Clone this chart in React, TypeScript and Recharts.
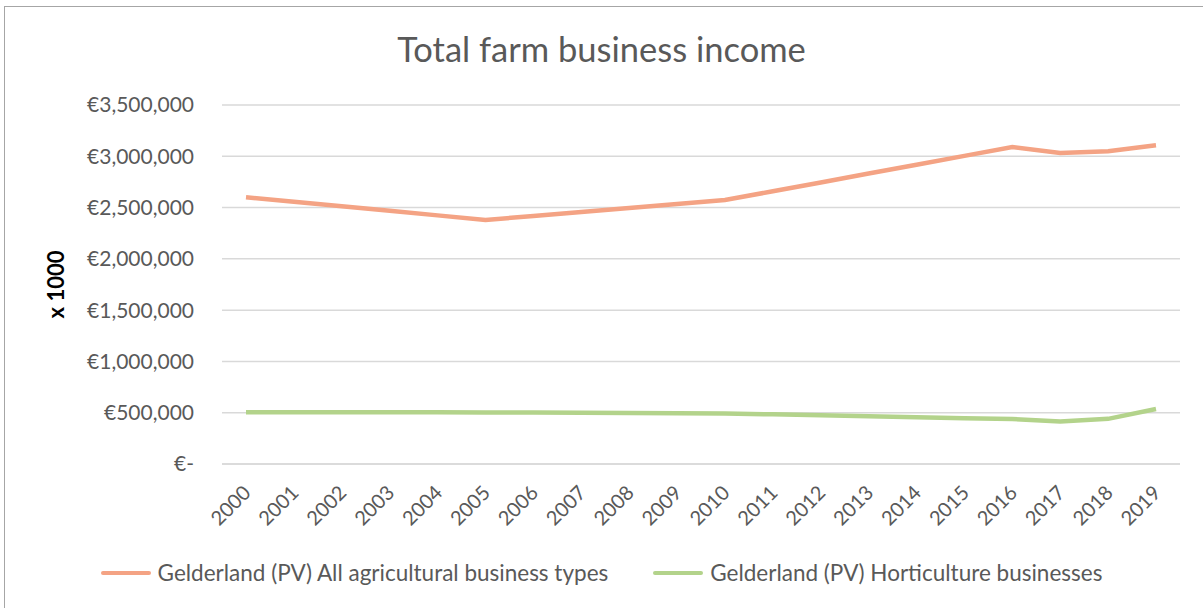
import { LineChart, Line, XAxis, YAxis, CartesianGrid, Legend, Label } from 'recharts';

const years = ['2000', '2001', '2002', '2003', '2004', '2005', '2006', '2007', '2008', '2009',
  '2010', '2011', '2012', '2013', '2014', '2015', '2016', '2017', '2018', '2019'];

// x 1000 euro
const allTypes = [2600000, 2556000, 2512000, 2468000, 2424000, 2380000, 2418000, 2457000, 2496000, 2534000,
  2573000, 2659000, 2745000, 2832000, 2918000, 3004000, 3090000, 3031000, 3050000, 3108000];
const horticulture = [505000, 505000, 504000, 504000, 504000, 503000, 501000, 499000, 497000, 495000,
  493000, 484000, 475000, 465000, 456000, 447000, 438000, 414000, 440000, 536000];

const yTicks = [0, 500000, 1000000, 1500000, 2000000, 2500000, 3000000, 3500000];

const seriesNames = ['Gelderland (PV) All agricultural business types', 'Gelderland (PV) Horticulture businesses'];
const colors = ['#F4A384', '#B3D38B'];

const data = years.map((y, i) => ({ year: y, all: allTypes[i], hort: horticulture[i] }));

const FONT = 'Lato, "Open Sans", sans-serif';
const TXT = '#595959';

const euro = (v: number) => (v === 0 ? '€-' : '€' + v.toLocaleString('en-US'));

function LegendBox() {
  return (
    <div style={{ display: 'flex', justifyContent: 'center', gap: 45, fontFamily: FONT, fontSize: 22.5, color: TXT }}>
      {seriesNames.map((n, i) => (
        <div key={n} style={{ display: 'flex', alignItems: 'center' }}>
          <span style={{ display: 'inline-block', width: 50, height: 4, borderRadius: 2, background: colors[i], marginRight: 7 }} />
          <span>{n}</span>
        </div>
      ))}
    </div>
  );
}

export default function App() {
  return (
    <div style={{ position: 'absolute', left: 0, top: 0, width: 1203, height: 608, background: '#fff', overflow: 'hidden' }}>
      <div style={{ position: 'absolute', left: 4, top: 6, width: 1220, height: 620, border: '1px solid #a6a6a6', boxSizing: 'border-box' }} />
      <div style={{ position: 'absolute', left: 0, top: 28, width: 1203, textAlign: 'center', fontFamily: FONT, fontSize: 34.5, color: TXT }}>
        Total farm business income
      </div>
      <div style={{ position: 'absolute', left: 0, top: 0 }}>
        <LineChart width={1203} height={608} data={data} margin={{ top: 105, right: 23, bottom: 84, left: 52 }}>
          <CartesianGrid vertical={false} stroke="#d9d9d9" strokeWidth={1.5} />
          <XAxis
            dataKey="year"
            axisLine={{ stroke: '#d9d9d9', strokeWidth: 1.5 }}
            tickLine={false}
            interval={0}
            angle={-45}
            textAnchor="end"
            height={60}
            padding={{ left: 24, right: 24 }}
            tick={{ fill: TXT, fontFamily: FONT, fontSize: 20 }}
            dy={12}
            dx={-4}
          />
          <YAxis
            domain={[0, 3500000]}
            ticks={yTicks}
            tickFormatter={euro}
            axisLine={false}
            tickLine={false}
            width={170}
            tick={{ fill: TXT, fontFamily: FONT, fontSize: 21 }}
            dx={-20}
          >
            <Label
              value="x 1000"
              angle={-90}
              position="insideLeft"
              offset={4}
              style={{ fontFamily: FONT, fontSize: 22, fontWeight: 'bold', fill: '#000', textAnchor: 'middle' }}
            />
          </YAxis>
          <Legend verticalAlign="middle" align="center" wrapperStyle={{ top: 559, left: 0, width: 1203 }} content={<LegendBox />} />
          <Line type="linear" dataKey="all" name={seriesNames[0]} stroke={colors[0]} strokeWidth={4.5} dot={false} isAnimationActive={false} />
          <Line type="linear" dataKey="hort" name={seriesNames[1]} stroke={colors[1]} strokeWidth={4.5} dot={false} isAnimationActive={false} />
        </LineChart>
      </div>
    </div>
  );
}
